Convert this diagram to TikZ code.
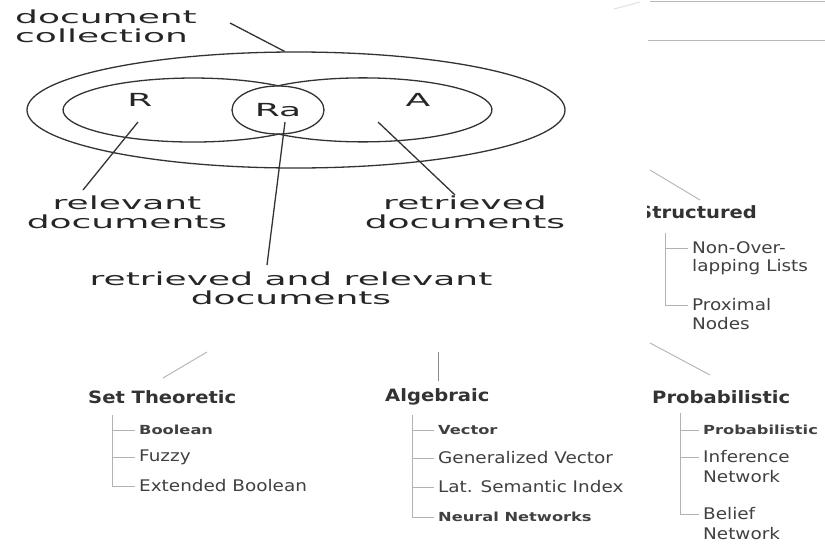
\documentclass[tikz,border=0pt]{standalone}
\usepackage{fontspec}
\usepackage{tikz}
\usetikzlibrary{shapes.geometric}
\newfontfamily\vennfont[FakeStretch=2.0]{DejaVu Sans}
\newfontfamily\taxfont[FakeStretch=1.15]{DejaVu Sans}
\newfontfamily\itemfont[FakeStretch=1.3]{DejaVu Sans}
\tikzset{
  venntext/.style={font=\vennfont\fontsize{18}{19}\selectfont,text=black!85,align=center,inner sep=0pt},
  heading/.style={font=\taxfont\bfseries\fontsize{17}{20}\selectfont,text=black!80,anchor=west,inner sep=0pt},
  leaf/.style={font=\taxfont\fontsize{16}{20}\selectfont,text=black!75,anchor=west,inner sep=0pt},
  smallleaf/.style={font=\itemfont\bfseries\fontsize{12.5}{15}\selectfont,text=black!75,anchor=west,inner sep=0pt},
  pen/.style={draw=black!80,line width=1.3pt},
  treeline/.style={black!30,line width=1pt,shorten >=4pt},
  faint/.style={black!28,line width=1pt}
}

\begin{document}
\begin{tikzpicture}[x=1pt,y=-1pt]
\useasboundingbox (0,0) rectangle (825,544);
\node[pen,ellipse,minimum width=538pt,minimum height=116pt,inner sep=0pt] (coll) at (296,110) {};
\coordinate (top join) at (278,85.8);
\draw[pen] (top join) arc[start angle=49.2,end angle=310.8,x radius=130pt,y radius=32pt];
\draw[pen] (top join) arc[start angle=131.2,end angle=-131.2,x radius=129pt,y radius=32pt];
\node[pen,ellipse,minimum width=92pt,minimum height=48pt,venntext] (ra) at (278,110) {Ra};
\node[venntext] (r) at (140,100) {R};
\node[venntext] (a) at (418,100) {A};
\node[venntext,align=left,anchor=west] (doccoll) at (15,26) {document\\collection};
\node[venntext] (rellab) at (127,212) {relevant\\documents};
\node[venntext] (retlab) at (465,212) {retrieved\\documents};
\node[venntext] (bothlab) at (291,288) {retrieved and relevant\\documents};
\coordinate (coll tip) at (230,23);
\coordinate (r tip) at (138,122);
\coordinate (r end) at (83,190);
\coordinate (ra tip) at (285,122);
\coordinate (ra end) at (267,265);
\coordinate (a tip) at (378,122);
\coordinate (a end) at (455,195);
\draw[pen] (coll tip) -- (coll.101);
\draw[pen] (r tip) -- (r end);
\draw[pen] (ra tip) -- (ra end);
\draw[pen] (a tip) -- (a end);

\draw[faint,line width=0.8pt] (650,1) -- (825,1);
\draw[faint,line width=0.8pt] (648,40) -- (825,40);
\draw[faint,black!12] (614,9) -- (640,2);

\coordinate (struct in) at (650,170);
\coordinate (struct out) at (700,200);
\draw[faint] (struct in) -- (struct out);
\begin{scope}
\clip (647,195) rectangle (825,230);
\node[heading] (struct) at (638,212) {Structured};
\end{scope}
\coordinate (struct trunk) at (665,233);
\node[leaf] (nonover) at (692,248) {Non-Over-};
\node[leaf] (nonoverb) at (692,267) {lapping Lists};
\node[leaf] (proximal) at (692,305) {Proximal};
\node[leaf] (proximalb) at (692,324) {Nodes};
\draw[treeline] (struct trunk) |- (nonover.west);
\draw[treeline] (struct trunk) |- (proximal.west);

\coordinate (set in) at (207,352);
\coordinate (set out) at (163,378);
\draw[faint] (set in) -- (set out);
\node[heading] (settheo) at (88,397) {Set Theoretic};
\coordinate (set trunk) at (112,415);
\node[smallleaf] (boolean) at (139,430) {Boolean};
\node[leaf] (fuzzy) at (139,457) {Fuzzy};
\node[leaf] (extbool) at (139,486) {Extended Boolean};
\draw[treeline] (set trunk) |- (boolean.west);
\draw[treeline] (set trunk) |- (fuzzy.west);
\draw[treeline] (set trunk) |- (extbool.west);

\coordinate (alg in) at (438,352);
\node[heading] (alg) at (385,397) {Algebraic};
\draw[faint,black!45] (alg in) -- (alg in |- alg.north) [shorten >=8pt];
\coordinate (alg trunk) at (412,415);
\node[smallleaf] (vector) at (438,430) {Vector};
\node[leaf] (genvec) at (438,458) {Generalized Vector};
\node[leaf] (lsi) at (438,487) {Lat. Semantic Index};
\node[smallleaf] (neural) at (438,517) {Neural Networks};
\draw[treeline] (alg trunk) |- (vector.west);
\draw[treeline] (alg trunk) |- (genvec.west);
\draw[treeline] (alg trunk) |- (lsi.west);
\draw[treeline] (alg trunk) |- (neural.west);

\coordinate (prob in) at (650,343);
\coordinate (prob out) at (710,375);
\draw[faint] (prob in) -- (prob out);
\node[heading] (prob) at (652,397) {Probabilistic};
\coordinate (prob trunk) at (680,413);
\node[smallleaf] (probleaf) at (703,430) {Probabilistic};
\node[leaf] (inference) at (703,457) {Inference};
\node[leaf] (inferenceb) at (703,477) {Network};
\node[leaf] (belief) at (703,514) {Belief};
\node[leaf] (beliefb) at (703,534) {Network};
\draw[treeline] (prob trunk) |- (probleaf.west);
\draw[treeline] (prob trunk) |- (inference.west);
\draw[treeline] (prob trunk) |- (belief.west);
\end{tikzpicture}
\end{document}
